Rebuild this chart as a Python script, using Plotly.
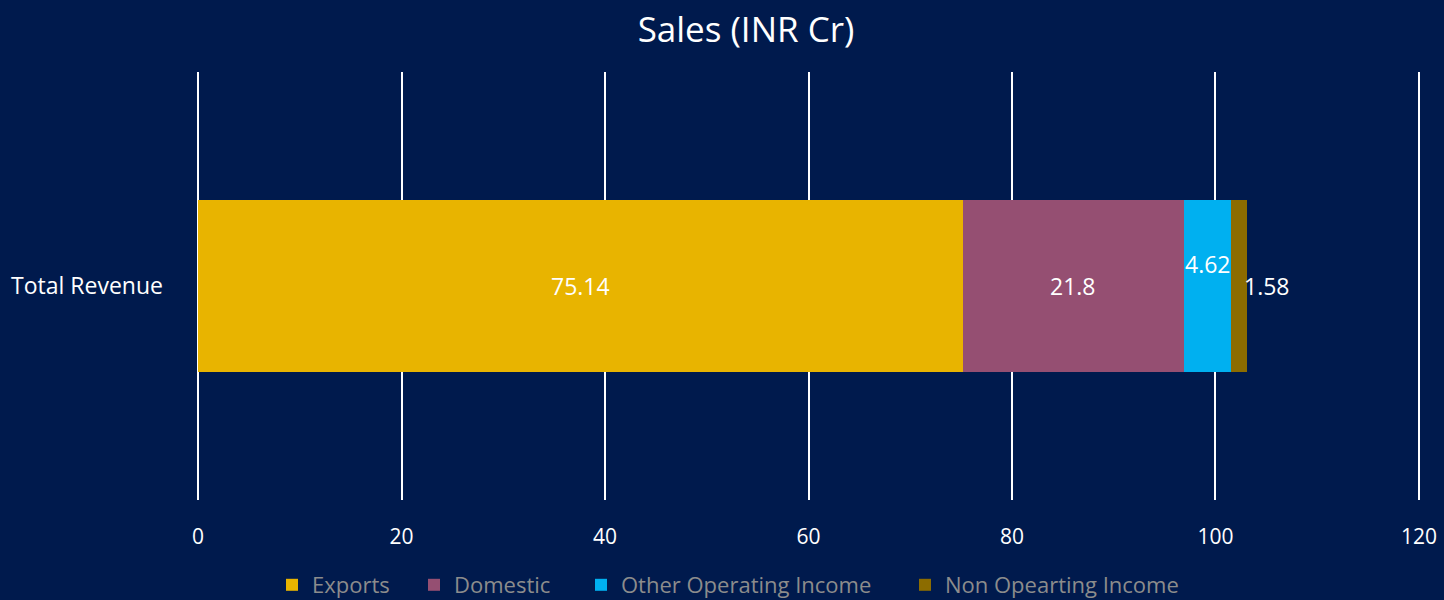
import plotly.graph_objects as go

categories = ["Total Revenue"]
series_names = ["Exports", "Domestic", "Other Operating Income", "Non Opearting Income"]
series_values = [[75.14], [21.8], [4.62], [1.58]]
colors = ["#E8B400", "#954F72", "#00B0F0", "#8C6C00"]
x_ticks = [0, 20, 40, 60, 80, 100, 120]

BG = "#001A4D"
FONT = "Open Sans, Noto Sans, sans-serif"

legend_ids = ["legend", "legend2", "legend3", "legend4"]
legend_x_px = [288, 430, 597, 921]  # left edge of each legend swatch

fig = go.Figure()
for i, (name, vals, col) in enumerate(zip(series_names, series_values, colors)):
    fig.add_trace(go.Bar(
        y=categories, x=vals, name=name, orientation="h",
        marker=dict(color=col, line=dict(width=0)),
        width=0.4, legend=legend_ids[i],
        hoverinfo="x+name",
    ))

# data labels
cum = 0.0
annotations = []
for i, vals in enumerate(series_values):
    v = vals[0]
    if i < len(series_values) - 1:
        xpos = cum + v / 2
        xanchor = "center"
        xshift = 0
        yshift = 22 if i == 2 else 0
    else:
        xpos = cum + v
        xanchor = "left"
        xshift = -5
        yshift = 0
    annotations.append(dict(
        x=xpos, y=categories[0], xref="x", yref="y", text=str(v),
        showarrow=False, xanchor=xanchor, yanchor="middle",
        xshift=xshift, yshift=yshift,
        font=dict(color="white", size=23, family=FONT),
    ))
    cum += v

legend_common = dict(orientation="h", xref="container", yref="container",
                     y=(600 - 585) / 600, yanchor="middle", xanchor="left",
                     font=dict(color="#8C8C8C", size=22, family=FONT),
                     itemwidth=30, bgcolor="rgba(0,0,0,0)", borderwidth=0)
legend_layout = {}
for lid, px in zip(legend_ids, legend_x_px):
    legend_layout[lid] = dict(legend_common, x=(px - 16) / 1444)

fig.update_layout(
    barmode="stack",
    width=1444, height=600,
    paper_bgcolor=BG, plot_bgcolor=BG,
    margin=dict(l=196, r=23, t=72, b=100, pad=0, autoexpand=False),
    title=dict(text="Sales (INR Cr)", x=746 / 1444, xanchor="center",
               y=1 - 30 / 600, yanchor="middle", xref="container", yref="container",
               font=dict(color="white", size=35, family=FONT)),
    font=dict(family=FONT, color="white"),
    showlegend=True,
    annotations=annotations,
    bargap=0.6,
    **legend_layout,
)
fig.update_xaxes(range=[-0.2, 120.2], tickvals=x_ticks, ticktext=[str(t) for t in x_ticks],
                 showgrid=True, gridcolor="white", gridwidth=1.5, zeroline=False,
                 showline=False, ticks="", ticklabelstandoff=22, automargin=False,
                 tickfont=dict(color="white", size=21, family=FONT), fixedrange=True)
fig.update_yaxes(showgrid=False, zeroline=False, showline=False, ticks="",
                 ticklabelstandoff=32, range=[-0.5, 0.5], automargin=False,
                 tickfont=dict(color="white", size=23, family=FONT))

fig.write_html("out.html", config={"displayModeBar": False},
               post_script="document.body.style.margin='0';document.body.style.overflow='hidden';")
